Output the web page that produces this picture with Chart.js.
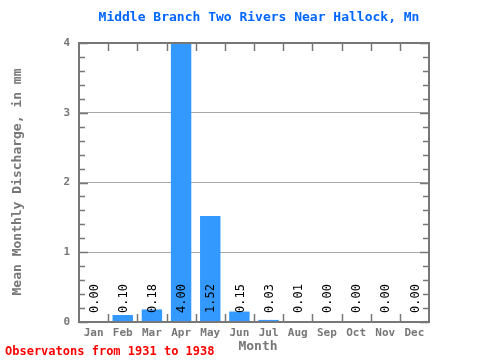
<!DOCTYPE html>
<html>
<head>
<meta charset="utf-8">
<script src="https://cdn.jsdelivr.net/npm/chart.js@4"></script>
<style>
  html, body { margin: 0; padding: 0; background: #fff; }
  #wrap { width: 480px; height: 360px; }
</style>
</head>
<body>
<div id="wrap"><canvas id="flowChart" width="480" height="360"></canvas></div>
<script>
var months = ["Jan", "Feb", "Mar", "Apr", "May", "Jun", "Jul", "Aug", "Sep", "Oct", "Nov", "Dec"];
var discharge = [0.00, 0.10, 0.18, 4.00, 1.52, 0.15, 0.03, 0.01, 0.00, 0.00, 0.00, 0.00];
var yTicks = [0, 1, 2, 3, 4];

var mono = "'DejaVu Sans Mono', monospace";
var frameColor = "#777777";

// frame, inward ticks, value labels and texts
var decorPlugin = {
    id: "decor",
    afterDatasetsDraw: function (chart) {
        var c = chart.ctx;
        var a = chart.chartArea;
        var x = chart.scales.x;
        var y = chart.scales.y;
        c.save();
        c.strokeStyle = frameColor;
        c.lineWidth = 1.5;
        // minor ticks on left and right
        for (var v = 0; v <= 4.001; v += 0.2) {
            var py = Math.round(y.getPixelForValue(v)) + 0.5;
            var major = Math.abs(v - Math.round(v)) < 0.01;
            c.beginPath();
            c.moveTo(a.left, py);
            c.lineTo(a.left + (major ? 9 : 6), py);
            c.moveTo(a.right, py);
            c.lineTo(a.right - (major ? 9 : 6), py);
            c.stroke();
        }
        // category boundary ticks top and bottom
        var step = (a.right - a.left) / months.length;
        for (var i = 1; i < months.length; i++) {
            var px = Math.round(a.left + i * step) + 0.5;
            c.beginPath();
            c.moveTo(px, a.top);
            c.lineTo(px, a.top + 8);
            c.moveTo(px, a.bottom);
            c.lineTo(px, a.bottom - 8);
            c.stroke();
        }
        // frame
        c.lineWidth = 2;
        c.strokeRect(a.left, a.top, a.right - a.left, a.bottom - a.top);

        // value labels
        c.fillStyle = "#000";
        c.font = "12px " + mono;
        c.textAlign = "left";
        c.textBaseline = "middle";
        for (var j = 0; j < discharge.length; j++) {
            var cx = x.getPixelForValue(j);
            c.save();
            c.translate(cx + 1, a.bottom - 9);
            c.rotate(-Math.PI / 2);
            c.fillText(discharge[j].toFixed(2), 0, 0);
            c.restore();
        }

        // title
        c.fillStyle = "#0066ff";
        c.font = "bold 13px " + mono;
        c.textAlign = "center";
        c.textBaseline = "middle";
        c.fillText("Middle Branch Two Rivers Near Hallock, Mn", 259, 18);

        // axis titles
        c.fillStyle = frameColor;
        c.font = "bold 13px " + mono;
        c.fillText("Month", 258, 347);
        c.save();
        c.translate(18, 182);
        c.rotate(-Math.PI / 2);
        c.fillText("Mean Monthly Discharge, in mm", 0, 0);
        c.restore();

        // footer
        c.fillStyle = "#ff0000";
        c.font = "bold 12px " + mono;
        c.textAlign = "left";
        c.fillText("Observatons from 1931 to 1938", 5, 352);
        c.restore();
    }
};

var ctx = document.getElementById("flowChart").getContext("2d");
var flowChart = new Chart(ctx, {
    type: "bar",
    data: {
        labels: months,
        datasets: [
            {
                label: "Discharge",
                data: discharge,
                backgroundColor: "#3399ff",
                borderWidth: 0,
                categoryPercentage: 1.0,
                barPercentage: 0.7
            }
        ]
    },
    options: {
        responsive: false,
        animation: false,
        devicePixelRatio: 1,
        layout: { padding: { left: 0, top: 43, right: 51, bottom: 0 } },
        plugins: {
            legend: { display: false },
            tooltip: { enabled: false }
        },
        scales: {
            x: {
                grid: { display: false, drawTicks: false },
                border: { display: false },
                ticks: {
                    color: frameColor,
                    font: { family: mono, size: 11, weight: "bold" },
                    padding: 5,
                    maxRotation: 0
                },
                afterFit: function (scale) { scale.height = 38; }
            },
            y: {
                min: 0,
                max: 4,
                afterBuildTicks: function (scale) {
                    scale.ticks = yTicks.map(function (v) { return { value: v }; });
                },
                grid: {
                    drawTicks: false,
                    color: function (ctx) {
                        var v = ctx.tick ? ctx.tick.value : 0;
                        return (v > 0 && v < 4) ? "#aaaaaa" : "rgba(0,0,0,0)";
                    },
                    lineWidth: 1
                },
                border: { display: false },
                ticks: {
                    color: frameColor,
                    font: { family: mono, size: 11, weight: "bold" },
                    padding: 9
                },
                afterFit: function (scale) { scale.width = 79; }
            }
        }
    },
    plugins: [decorPlugin]
});
</script>
</body>
</html>
